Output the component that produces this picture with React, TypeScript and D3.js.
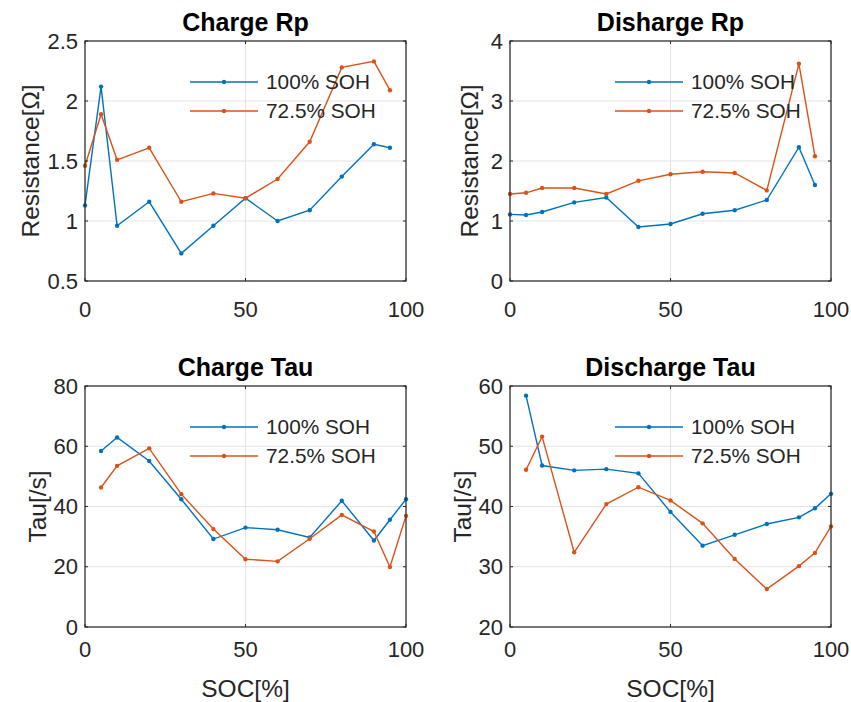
import React from "react";
import * as d3 from "d3";

// SOC sample points (percent)
const socRp = [0, 5, 10, 20, 30, 40, 50, 60, 70, 80, 90, 95];
const socTau = [5, 10, 20, 30, 40, 50, 60, 70, 80, 90, 95, 100];

// Charge polarization resistance [Ω]
const chargeRpNew = [1.13, 2.12, 0.96, 1.16, 0.73, 0.96, 1.19, 1.0, 1.09, 1.37, 1.64, 1.61];
const chargeRpAged = [1.46, 1.89, 1.51, 1.61, 1.16, 1.23, 1.19, 1.35, 1.66, 2.28, 2.33, 2.09];

// Discharge polarization resistance [Ω]
const dischargeRpNew = [1.11, 1.1, 1.15, 1.31, 1.39, 0.9, 0.95, 1.12, 1.18, 1.35, 2.23, 1.6];
const dischargeRpAged = [1.45, 1.47, 1.55, 1.55, 1.45, 1.67, 1.78, 1.82, 1.8, 1.51, 3.62, 2.08];

// Charge time constant [s]
const chargeTauNew = [58.4, 62.9, 55.1, 42.4, 29.2, 33.0, 32.3, 29.7, 41.9, 28.7, 35.6, 42.4];
const chargeTauAged = [46.3, 53.5, 59.3, 44.1, 32.5, 22.5, 21.8, 29.3, 37.2, 31.7, 19.9, 36.9];

// Discharge time constant [s]
const dischargeTauNew = [58.4, 46.8, 46.0, 46.2, 45.5, 39.1, 33.5, 35.3, 37.1, 38.2, 39.7, 42.1];
const dischargeTauAged = [46.1, 51.6, 32.4, 40.4, 43.2, 41.0, 37.2, 31.3, 26.3, 30.1, 32.3, 36.7];

const seriesNames = ["100% SOH", "72.5% SOH"];
const xTicks = [0, 50, 100];

const BLUE = "#0072BD";
const ORANGE = "#D95319";
const FONT = "'Liberation Sans', Arial, Helvetica, sans-serif";
const AXIS_COLOR = "#262626";
const GRID_COLOR = "#e3e3e3";

type PanelProps = {
  left: number;
  top: number;
  width: number;
  height: number;
  title: string;
  yLabel: string;
  xLabel?: string;
  xTickGap: number;
  yDomain: [number, number];
  yTicks: number[];
  soc: number[];
  a: number[];
  b: number[];
};

function Panel(p: PanelProps) {
  const x = d3.scaleLinear().domain([0, 100]).range([p.left, p.left + p.width]);
  const y = d3.scaleLinear().domain(p.yDomain).range([p.top + p.height, p.top]);
  const line = d3
    .line<[number, number]>()
    .x((d) => x(d[0]))
    .y((d) => y(d[1]));
  const ptsA = p.soc.map((s, i) => [s, p.a[i]] as [number, number]);
  const ptsB = p.soc.map((s, i) => [s, p.b[i]] as [number, number]);
  const bottom = p.top + p.height;
  const right = p.left + p.width;
  const fmt = (v: number) => String(v);
  const maxLabelLen = Math.max(...p.yTicks.map((t) => fmt(t).length));
  const yLabelX = p.left - 34 - maxLabelLen * 7;

  const legendX0 = p.left + 105;
  const legendX1 = p.left + 173;
  const legendRows = [p.top + 41, p.top + 70];

  return (
    <g>
      {/* grid */}
      {xTicks.map((t) => (
        <line key={"gx" + t} x1={x(t)} x2={x(t)} y1={p.top} y2={bottom} stroke={GRID_COLOR} strokeWidth={1} />
      ))}
      {p.yTicks.map((t) => (
        <line key={"gy" + t} x1={p.left} x2={right} y1={y(t)} y2={y(t)} stroke={GRID_COLOR} strokeWidth={1} />
      ))}
      {/* series */}
      <path d={line(ptsA) ?? ""} fill="none" stroke={BLUE} strokeWidth={1.4} />
      {ptsA.map((d, i) => (
        <circle key={"a" + i} cx={x(d[0])} cy={y(d[1])} r={2.2} fill={BLUE} />
      ))}
      <path d={line(ptsB) ?? ""} fill="none" stroke={ORANGE} strokeWidth={1.4} />
      {ptsB.map((d, i) => (
        <circle key={"b" + i} cx={x(d[0])} cy={y(d[1])} r={2.2} fill={ORANGE} />
      ))}
      {/* legend */}
      {seriesNames.map((name, i) => (
        <g key={name}>
          <line x1={legendX0} x2={legendX1} y1={legendRows[i]} y2={legendRows[i]} stroke={i === 0 ? BLUE : ORANGE} strokeWidth={1.4} />
          <circle cx={(legendX0 + legendX1) / 2} cy={legendRows[i]} r={2.2} fill={i === 0 ? BLUE : ORANGE} />
          <text x={legendX1 + 8} y={legendRows[i]} dy="0.35em" fontSize={20.8} fill={AXIS_COLOR} fontFamily={FONT}>
            {name}
          </text>
        </g>
      ))}
      {/* axes box */}
      <rect x={p.left} y={p.top} width={p.width} height={p.height} fill="none" stroke={AXIS_COLOR} strokeWidth={1.2} />
      {/* ticks */}
      {xTicks.map((t) => (
        <g key={"tx" + t}>
          <line x1={x(t)} x2={x(t)} y1={bottom} y2={bottom - 3} stroke={AXIS_COLOR} />
          <line x1={x(t)} x2={x(t)} y1={p.top} y2={p.top + 3} stroke={AXIS_COLOR} />
          <text x={x(t)} y={bottom + p.xTickGap} dy="0.35em" textAnchor="middle" fontSize={22} fill={AXIS_COLOR} fontFamily={FONT}>
            {fmt(t)}
          </text>
        </g>
      ))}
      {p.yTicks.map((t) => (
        <g key={"ty" + t}>
          <line x1={p.left} x2={p.left + 3} y1={y(t)} y2={y(t)} stroke={AXIS_COLOR} />
          <line x1={right} x2={right - 3} y1={y(t)} y2={y(t)} stroke={AXIS_COLOR} />
          <text x={p.left - 7} y={y(t)} dy="0.35em" textAnchor="end" fontSize={22} fill={AXIS_COLOR} fontFamily={FONT}>
            {fmt(t)}
          </text>
        </g>
      ))}
      {/* labels */}
      <text x={(p.left + right) / 2} y={p.top - 19} dy="0.35em" textAnchor="middle" fontSize={25} fontWeight="bold" fill="#000" fontFamily={FONT}>
        {p.title}
      </text>
      <text
        transform={`translate(${yLabelX},${(p.top + bottom) / 2}) rotate(-90)`}
        textAnchor="middle"
        dy="0.35em"
        fontSize={24.5}
        fill={AXIS_COLOR}
        fontFamily={FONT}
      >
        {p.yLabel}
      </text>
      {p.xLabel && (
        <text x={(p.left + right) / 2} y={bottom + 61} dy="0.35em" textAnchor="middle" fontSize={24.5} fill={AXIS_COLOR} fontFamily={FONT}>
          {p.xLabel}
        </text>
      )}
    </g>
  );
}

export default function App() {
  const W = 851;
  const H = 702;
  const pw = 321;
  return (
    <svg width={W} height={H} style={{ position: "absolute", left: 0, top: 0, background: "#fff" }}>
      <rect width={W} height={H} fill="#fff" />
      <Panel left={85} top={41} width={pw} height={240} title="Charge Rp" yLabel="Resistance[Ω]" xTickGap={28}
        yDomain={[0.5, 2.5]} yTicks={[0.5, 1, 1.5, 2, 2.5]} soc={socRp} a={chargeRpNew} b={chargeRpAged} />
      <Panel left={510} top={41} width={pw} height={240} title="Disharge Rp" yLabel="Resistance[Ω]" xTickGap={28}
        yDomain={[0, 4]} yTicks={[0, 1, 2, 3, 4]} soc={socRp} a={dischargeRpNew} b={dischargeRpAged} />
      <Panel left={85} top={386} width={pw} height={241} title="Charge Tau" yLabel="Tau[/s]" xLabel="SOC[%]" xTickGap={22}
        yDomain={[0, 80]} yTicks={[0, 20, 40, 60, 80]} soc={socTau} a={chargeTauNew} b={chargeTauAged} />
      <Panel left={510} top={386} width={pw} height={241} title="Discharge Tau" yLabel="Tau[/s]" xLabel="SOC[%]" xTickGap={22}
        yDomain={[20, 60]} yTicks={[20, 30, 40, 50, 60]} soc={socTau} a={dischargeTauNew} b={dischargeTauAged} />
    </svg>
  );
}
